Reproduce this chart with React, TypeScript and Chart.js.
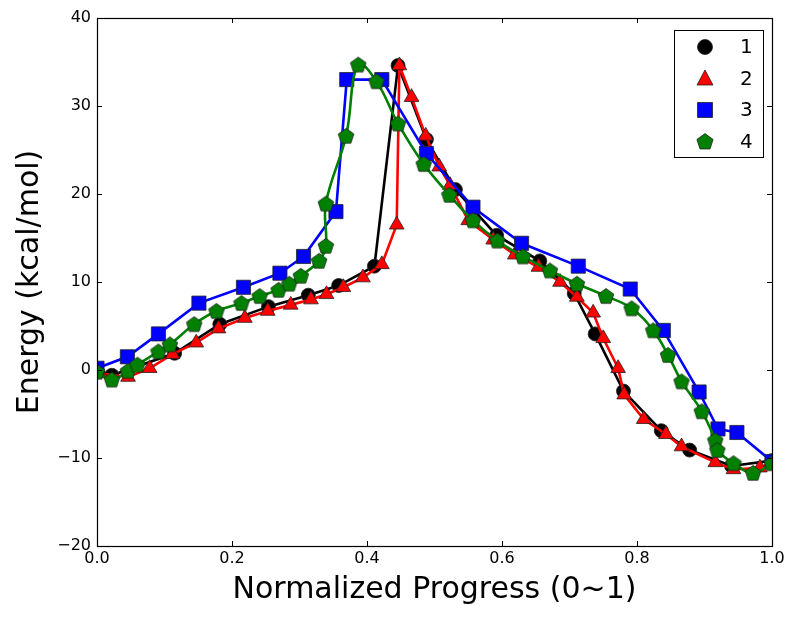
import React, { useEffect, useRef } from "react";
import { Chart, registerables } from "chart.js";

Chart.register(...registerables);

const s1X = [0, 0.022, 0.115, 0.182, 0.254, 0.313, 0.358, 0.411, 0.446, 0.488, 0.531, 0.592, 0.656, 0.707, 0.738, 0.78, 0.836, 0.878, 0.94, 1.0];
const s1Y = [0, -0.6, 1.9, 5.2, 7.2, 8.5, 9.6, 11.8, 34.6, 26.2, 20.5, 15.3, 12.4, 8.7, 4.1, -2.4, -6.9, -9.1, -10.9, -10.3];

const s2X = [0.005, 0.046, 0.078, 0.112, 0.147, 0.18, 0.219, 0.253, 0.287, 0.317, 0.34, 0.365, 0.394, 0.422, 0.444, 0.448, 0.466, 0.487, 0.507, 0.523, 0.55, 0.587, 0.619, 0.654, 0.686, 0.711, 0.735, 0.75, 0.772, 0.781, 0.81, 0.843, 0.866, 0.916, 0.943, 0.982, 1.0];
const s2Y = [-0.4, -0.8, 0.2, 1.8, 3.1, 4.7, 5.9, 6.7, 7.4, 8.0, 8.6, 9.4, 10.5, 12.0, 16.5, 34.6, 31.0, 26.6, 23.1, 21.0, 17.0, 14.8, 13.1, 11.7, 10.0, 8.3, 6.5, 3.6, 0.2, -2.8, -5.6, -7.3, -8.7, -10.5, -11.3, -11.1, -10.5];

const s3X = [0, 0.045, 0.091, 0.151, 0.217, 0.271, 0.306, 0.354, 0.37, 0.422, 0.488, 0.557, 0.629, 0.713, 0.79, 0.839, 0.892, 0.92, 0.948, 1.0];
const s3Y = [0.2, 1.5, 4.1, 7.6, 9.4, 11.0, 12.9, 18.0, 33.0, 33.0, 24.6, 18.5, 14.4, 11.8, 9.2, 4.5, -2.5, -6.7, -7.1, -10.4];

const s4X = [0, 0.022, 0.046, 0.06, 0.091, 0.108, 0.144, 0.177, 0.214, 0.241, 0.269, 0.285, 0.302, 0.329, 0.339, 0.339, 0.369, 0.387, 0.414, 0.446, 0.484, 0.522, 0.557, 0.593, 0.631, 0.671, 0.711, 0.754, 0.792, 0.824, 0.846, 0.866, 0.896, 0.916, 0.919, 0.943, 0.972, 1.0];
const s4Y = [-0.2, -1.1, -0.1, 0.6, 2.1, 2.9, 5.2, 6.7, 7.6, 8.4, 9.1, 9.8, 10.7, 12.4, 14.1, 18.9, 26.6, 34.7, 32.8, 28.0, 23.4, 19.9, 17.0, 14.7, 12.9, 11.3, 9.8, 8.4, 7.0, 4.5, 1.7, -1.3, -4.7, -8.0, -9.1, -10.6, -11.7, -10.6];

const seriesLabels = ["1", "2", "3", "4"];
const seriesColors = ["#000000", "#ff0000", "#0000ff", "#008000"];
const xTicks = [0, 0.2, 0.4, 0.6, 0.8, 1.0];
const yTicks = [-20, -10, 0, 10, 20, 30, 40];

const FONT = "'DejaVu Sans', sans-serif";
const EDGE = "#222222";

function pts(xs: number[], ys: number[]) {
  return xs.map((x, i) => ({ x, y: ys[i] }));
}

function pentagonPath(ctx: CanvasRenderingContext2D, cx: number, cy: number, r: number) {
  ctx.beginPath();
  for (let i = 0; i < 5; i++) {
    const a = -Math.PI / 2 + (i * 2 * Math.PI) / 5;
    const px = cx + r * Math.cos(a);
    const py = cy + r * Math.sin(a);
    if (i === 0) ctx.moveTo(px, py);
    else ctx.lineTo(px, py);
  }
  ctx.closePath();
}

function makePentagon(color: string) {
  const c = document.createElement("canvas");
  c.width = 18;
  c.height = 18;
  const ctx = c.getContext("2d")!;
  pentagonPath(ctx, 9, 9.6, 8.2);
  ctx.fillStyle = color;
  ctx.fill();
  ctx.strokeStyle = EDGE;
  ctx.lineWidth = 0.8;
  ctx.stroke();
  return c;
}

function drawMarker(ctx: CanvasRenderingContext2D, kind: number, x: number, y: number, color: string) {
  ctx.save();
  ctx.fillStyle = color;
  ctx.strokeStyle = EDGE;
  ctx.lineWidth = 0.8;
  ctx.beginPath();
  if (kind === 0) {
    ctx.arc(x, y, 7.5, 0, Math.PI * 2);
  } else if (kind === 1) {
    ctx.moveTo(x, y - 8.5);
    ctx.lineTo(x + 8, y + 6.5);
    ctx.lineTo(x - 8, y + 6.5);
    ctx.closePath();
  } else if (kind === 2) {
    ctx.rect(x - 7.5, y - 7.5, 15, 15);
  } else {
    pentagonPath(ctx, x, y + 0.6, 8.5);
  }
  ctx.fill();
  ctx.stroke();
  ctx.restore();
}

const framePlugin = {
  id: "frame",
  afterDatasetsDraw(chart: any) {
    const { ctx, chartArea: a, scales } = chart;
    ctx.save();
    ctx.strokeStyle = "#000";
    ctx.lineWidth = 1;
    ctx.beginPath();
    const tl = 5;
    xTicks.forEach((v) => {
      const px = Math.round(scales.x.getPixelForValue(v)) + 0.5;
      ctx.moveTo(px, a.bottom);
      ctx.lineTo(px, a.bottom - tl);
      ctx.moveTo(px, a.top);
      ctx.lineTo(px, a.top + tl);
    });
    yTicks.forEach((v) => {
      const py = Math.round(scales.y.getPixelForValue(v)) + 0.5;
      ctx.moveTo(a.left, py);
      ctx.lineTo(a.left + tl, py);
      ctx.moveTo(a.right, py);
      ctx.lineTo(a.right - tl, py);
    });
    ctx.stroke();
    ctx.lineWidth = 1.2;
    ctx.strokeRect(Math.round(a.left) + 0.5, Math.round(a.top) + 0.5, Math.round(a.right - a.left), Math.round(a.bottom - a.top));
    ctx.restore();
  },
};

const legendPlugin = {
  id: "customLegend",
  afterDraw(chart: any) {
    const { ctx, chartArea: a } = chart;
    const right = a.right - 9;
    const top = a.top + 12;
    const w = 89;
    const h = 127;
    const left = right - w;
    ctx.save();
    ctx.fillStyle = "#fff";
    ctx.fillRect(left, top, w, h);
    ctx.strokeStyle = "#000";
    ctx.lineWidth = 1;
    ctx.strokeRect(left + 0.5, top + 0.5, w, h);
    seriesLabels.forEach((lab, i) => {
      const y = top + 17 + i * 31.5;
      drawMarker(ctx, i, left + 31, y, seriesColors[i]);
      ctx.fillStyle = "#000";
      ctx.font = `20px ${FONT}`;
      ctx.textBaseline = "middle";
      ctx.textAlign = "left";
      ctx.fillText(lab, left + 66, y + 1);
    });
    ctx.restore();
  },
};

export default function App() {
  const ref = useRef<HTMLCanvasElement>(null);

  useEffect(() => {
    if (!ref.current) return;
    const pent = makePentagon(seriesColors[3]);
    const common = {
      pointBorderColor: EDGE,
      pointBorderWidth: 0.8,
      borderWidth: 2.6,
      showLine: true,
      fill: false,
    };
    const chart = new Chart(ref.current, {
      type: "scatter",
      data: {
        datasets: [
          {
            ...common,
            label: seriesLabels[0],
            data: pts(s1X, s1Y),
            borderColor: seriesColors[0],
            backgroundColor: seriesColors[0],
            pointStyle: "circle",
            pointRadius: 7,
            tension: 0,
            order: 4,
          },
          {
            ...common,
            label: seriesLabels[1],
            data: pts(s2X, s2Y),
            borderColor: seriesColors[1],
            backgroundColor: seriesColors[1],
            pointStyle: "triangle",
            pointRadius: 8.5,
            tension: 0,
            order: 3,
          },
          {
            ...common,
            label: seriesLabels[2],
            data: pts(s3X, s3Y),
            borderColor: seriesColors[2],
            backgroundColor: seriesColors[2],
            pointStyle: "rect",
            pointRadius: 10,
            tension: 0,
            order: 2,
          },
          {
            ...common,
            label: seriesLabels[3],
            data: pts(s4X, s4Y),
            borderColor: seriesColors[3],
            backgroundColor: seriesColors[3],
            pointStyle: pent as any,
            pointRadius: 8,
            tension: 0.4,
            order: 1,
          },
        ],
      },
      options: {
        responsive: false,
        animation: false,
        layout: { padding: { top: 18, right: 28, left: 12, bottom: 0 } },
        plugins: {
          legend: { display: false },
          tooltip: { enabled: false },
        },
        scales: {
          x: {
            type: "linear",
            min: 0,
            max: 1,
            afterBuildTicks: (s: any) => {
              s.ticks = xTicks.map((v) => ({ value: v }));
            },
            ticks: {
              color: "#000",
              font: { family: FONT, size: 16 },
              padding: 3,
              maxRotation: 0,
              callback: (v: any) => Number(v).toFixed(1),
            },
            grid: { display: false, drawTicks: false },
            border: { display: false },
            title: {
              display: true,
              text: "Normalized Progress (0~1)",
              color: "#000",
              font: { family: FONT, size: 30 },
              padding: { top: 2, bottom: 9 },
            },
            afterFit: (s: any) => {
              s.height = 71;
            },
          },
          y: {
            type: "linear",
            min: -20,
            max: 40,
            afterBuildTicks: (s: any) => {
              s.ticks = yTicks.map((v) => ({ value: v }));
            },
            ticks: {
              color: "#000",
              font: { family: FONT, size: 16 },
              padding: 6,
              callback: (v: any) => (Number(v) < 0 ? "\u2212" + Math.abs(Number(v)) : String(v)),
            },
            grid: { display: false, drawTicks: false },
            border: { display: false },
            title: {
              display: true,
              text: "Energy (kcal/mol)",
              color: "#000",
              font: { family: FONT, size: 30 },
              padding: { top: 0, bottom: 4 },
            },
            afterFit: (s: any) => {
              s.width = 85;
            },
          },
        },
      },
      plugins: [framePlugin, legendPlugin],
    });
    return () => chart.destroy();
  }, []);

  return (
    <div style={{ position: "absolute", left: 0, top: 0, width: 800, height: 617, background: "#fff" }}>
      <canvas ref={ref} width={800} height={617} style={{ width: 800, height: 617 }} />
    </div>
  );
}
